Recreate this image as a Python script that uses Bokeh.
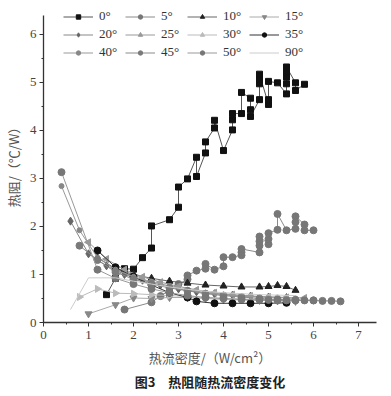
import math
from bokeh.plotting import figure
from bokeh.models import Range1d, SingleIntervalTicker, Title, Legend
from bokeh.embed import file_html
from bokeh.resources import INLINE

labels = ["0°", "5°", "10°", "15°", "20°", "25°", "30°", "35°", "40°", "45°", "50°", "90°"]

x_0 = [1.4, 1.6, 1.8, 2.0, 2.2, 2.4, 2.4, 2.8, 3.0, 3.0, 3.2, 3.4, 3.4, 3.6, 3.6, 3.8, 3.8, 4.0, 4.2, 4.2, 4.2,
       4.4, 4.4, 4.6, 4.6, 4.6, 4.8, 4.8, 4.8, 4.8, 5.0, 5.0, 5.0, 5.2, 5.4, 5.4, 5.4, 5.4, 5.4, 5.6, 5.6, 5.8]
y_0 = [0.58, 0.92, 1.12, 1.11, 1.35, 1.55, 2.01, 2.14, 2.40, 2.82, 2.99, 3.44, 3.04, 3.53, 3.76, 4.05, 4.21, 3.58,
       4.01, 4.22, 4.35, 4.35, 4.79, 4.67, 4.43, 4.29, 4.64, 4.97, 5.08, 5.17, 4.54, 4.64, 5.02, 4.99, 4.76, 4.97,
       5.11, 5.21, 5.32, 4.99, 4.83, 4.96]

x_5 = [1.8, 2.4, 2.6, 3.0, 3.2, 3.2, 3.4, 3.6, 3.6, 3.8, 4.0, 4.0, 4.2, 4.4, 4.4, 4.4, 4.8, 4.8, 4.8, 4.8, 5.0, 5.0,
       5.0, 5.2, 5.2, 5.4, 5.6, 5.6, 5.6, 5.8, 5.8, 6.0]
y_5 = [0.27, 0.42, 0.55, 0.80, 0.90, 0.98, 1.08, 1.12, 1.22, 1.10, 1.17, 1.36, 1.36, 1.40, 1.46, 1.53, 1.46, 1.60,
       1.69, 1.79, 1.63, 1.74, 1.86, 1.93, 2.26, 1.92, 1.95, 2.09, 2.21, 2.04, 1.92, 1.92]

x_10 = [1.2, 1.6, 2.0, 2.4, 2.8, 3.2, 3.6, 4.0, 4.4, 4.8, 5.0, 5.2, 5.4, 5.6]
y_10 = [1.35, 1.12, 1.00, 0.92, 0.86, 0.82, 0.78, 0.76, 0.74, 0.74, 0.75, 0.77, 0.75, 0.67]

x_15 = [1.0, 1.6, 2.0, 2.4, 2.8, 3.2, 3.6, 4.0, 4.4, 4.8, 5.2, 5.6]
y_15 = [0.18, 0.37, 0.51, 0.50, 0.52, 0.52, 0.50, 0.48, 0.47, 0.46, 0.45, 0.44]

x_20 = [0.6, 1.0, 1.4, 1.8, 2.2, 2.6, 3.0, 3.4, 3.8, 4.2, 4.6, 5.0, 5.4]
y_20 = [2.11, 1.43, 1.18, 1.00, 0.88, 0.78, 0.70, 0.64, 0.60, 0.57, 0.55, 0.53, 0.52]

x_25 = [1.0, 1.4, 1.8, 2.2, 2.6, 3.0, 3.4, 3.8, 4.2, 4.6, 5.0, 5.4, 5.8]
y_25 = [1.67, 1.32, 1.10, 0.95, 0.84, 0.75, 0.68, 0.62, 0.58, 0.55, 0.53, 0.52, 0.51]

x_30 = [0.8, 1.2, 1.6, 2.0, 2.4, 2.8, 3.2, 3.6, 4.0, 4.4, 4.8, 5.2]
y_30 = [0.53, 0.70, 0.61, 0.60, 0.58, 0.56, 0.54, 0.52, 0.50, 0.49, 0.48, 0.47]

x_35 = [1.2, 1.6, 2.0, 2.4, 2.8, 3.2, 3.4, 3.8, 4.2, 4.6, 5.0, 5.4]
y_35 = [1.50, 1.15, 0.95, 0.78, 0.62, 0.52, 0.44, 0.40, 0.40, 0.40, 0.40, 0.41]

x_40 = [0.4, 0.8, 1.2, 1.6, 2.0, 2.4, 2.8, 3.2, 3.6, 4.0, 4.4, 4.8, 5.2, 5.6]
y_40 = [2.84, 1.92, 1.35, 1.10, 0.95, 0.85, 0.76, 0.68, 0.62, 0.58, 0.55, 0.53, 0.52, 0.50]

x_45 = [0.8, 1.2, 1.6, 2.0, 2.4, 2.8, 3.2, 3.6, 4.0, 4.4, 4.8, 5.2, 5.6, 6.0]
y_45 = [1.60, 1.30, 1.05, 0.90, 0.80, 0.72, 0.66, 0.60, 0.56, 0.53, 0.50, 0.48, 0.47, 0.46]

x_50 = [0.4, 1.2, 1.6, 2.0, 2.4, 2.8, 3.2, 3.6, 4.0, 4.4, 4.8, 5.0, 5.2, 5.4, 5.6, 5.8, 6.0, 6.2, 6.4, 6.6]
y_50 = [3.13, 1.10, 0.92, 0.80, 0.70, 0.62, 0.56, 0.52, 0.50, 0.48, 0.47, 0.47, 0.46, 0.46, 0.46, 0.46, 0.46,
        0.45, 0.45, 0.44]

x_90 = [0.6, 1.0, 1.6, 2.0, 2.4, 2.8, 3.2, 3.6, 4.0, 4.4, 4.8, 5.2, 5.6]
y_90 = [0.27, 0.93, 0.93, 0.86, 0.80, 0.74, 0.69, 0.65, 0.62, 0.60, 0.58, 0.57, 0.56]

xs = [x_0, x_5, x_10, x_15, x_20, x_25, x_30, x_35, x_40, x_45, x_50, x_90]
ys = [y_0, y_5, y_10, y_15, y_20, y_25, y_30, y_35, y_40, y_45, y_50, y_90]

# style per series: (line color, marker, marker color, marker size, angle)
styles = [
    ("#555555", "square", "#111111", 6, 0),
    ("#8a8a8a", "circle", "#777777", 7, 0),
    ("#666666", "triangle", "#222222", 7, 0),
    ("#aaaaaa", "inverted_triangle", "#888888", 7, 0),
    ("#888888", "diamond", "#666666", 8, 0),
    ("#999999", "triangle", "#999999", 7, math.pi / 2),
    ("#bbbbbb", "triangle", "#bbbbbb", 7, -math.pi / 2),
    ("#333333", "circle", "#111111", 7, 0),
    ("#999999", "circle", "#888888", 5, 0),
    ("#8a8a8a", "circle", "#7a7a7a", 7, 0),
    ("#999999", "circle", "#777777", 7, 0),
    ("#cccccc", None, None, 0, 0),
]

p = figure(frame_width=333, frame_height=317, output_backend="svg", toolbar_location=None,
           x_range=Range1d(0, 7.4), y_range=Range1d(0, 6.6),
           min_border_left=34, min_border_right=8, min_border_top=5, min_border_bottom=0)
p.outline_line_color = None
p.grid.visible = False
p.background_fill_color = "white"

items = []
for lbl, x, y, st in zip(labels, xs, ys, styles):
    lc, mk, mc, ms, ang = st
    r1 = p.line(x, y, line_color=lc, line_width=1)
    rs = [r1]
    if mk is not None:
        r2 = p.scatter(x, y, marker=mk, size=ms, fill_color=mc, line_color=mc, angle=ang)
        rs.append(r2)
    items.append((lbl, rs))

legend = Legend(items=items, ncols=4, orientation="horizontal", location=(20, 262),
                padding=0, margin=0, spacing=2, glyph_width=30, glyph_height=11,
                label_height=11, label_width=24, label_standoff=6,
                border_line_color=None, background_fill_alpha=0,
                label_text_font="Liberation Serif", label_text_font_size="13px",
                label_text_color="#333333")
p.add_layout(legend, "center")

for ax in (p.xaxis[0], p.yaxis[0]):
    ax.ticker = SingleIntervalTicker(interval=1, num_minor_ticks=2)
    ax.axis_line_color = "#333333"
    ax.axis_line_width = 1.3
    ax.major_tick_line_color = "#333333"
    ax.minor_tick_line_color = "#333333"
    ax.major_tick_in = 0
    ax.major_tick_out = 4
    ax.minor_tick_in = 0
    ax.minor_tick_out = 2
    ax.major_label_text_font = "Liberation Serif"
    ax.major_label_text_font_size = "13px"
    ax.major_label_text_color = "#444444"
    ax.axis_label_text_font = "Noto Sans CJK SC"
    ax.axis_label_text_font_size = "13px"
    ax.axis_label_text_font_style = "normal"
    ax.axis_label_text_color = "#555555"

p.yaxis.bounds = (0, 6.4)
p.xaxis.axis_label = "热流密度/（W/cm²）"
p.yaxis.axis_label = "热阻/（℃/W）"
p.xaxis.major_label_standoff = 4
p.xaxis.axis_label_standoff = 6
p.yaxis.major_label_standoff = 3
p.yaxis.axis_label_standoff = 4

cap = Title(text="图3　热阻随热流密度变化", align="center", text_font="Noto Sans CJK SC",
            text_font_size="13px", text_font_style="bold", text_color="#222222",
            standoff=0, offset=0)
p.add_layout(cap, "below")

open("out.html", "w").write(file_html(p, INLINE))
